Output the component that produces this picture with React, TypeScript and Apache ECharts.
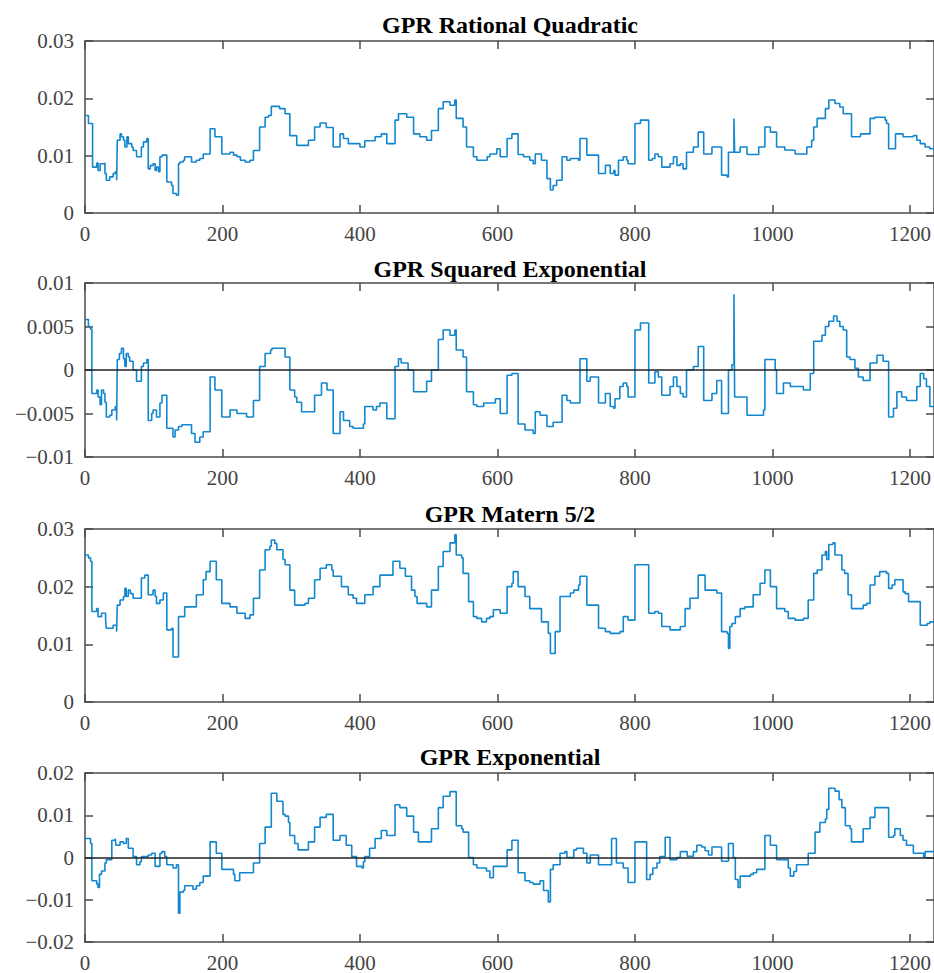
import React, { useEffect, useRef } from "react";
import * as echarts from "echarts";

const titles = [
  "GPR Rational Quadratic",
  "GPR Squared Exponential",
  "GPR Matern 5/2",
  "GPR Exponential",
];

const xTicks = [0, 200, 400, 600, 800, 1000, 1200];
const yRanges = [
  { min: 0, max: 0.03, interval: 0.01 },
  { min: -0.01, max: 0.01, interval: 0.005 },
  { min: 0, max: 0.03, interval: 0.01 },
  { min: -0.02, max: 0.02, interval: 0.01 },
];
const zeroLine = [false, true, false, true];

const rqData = [
  [0,0.0170],[5,0.0156],[11,0.0080],[17,0.0087],[19,0.0074],[22,0.0086],[27,0.0087],[29,0.0069],[31,0.0057],[36,0.0063],[41,0.0069],[44,0.0072],[46,0.0057],[47,0.0127],[51,0.0138],[53,0.0133],[56,0.0127],[58,0.0115],[61,0.0133],[63,0.0121],[68,0.0115],[70,0.0109],[75,0.0098],[82,0.0115],[85,0.0124],[90,0.0130],[92,0.0077],[95,0.0083],[99,0.0086],[102,0.0074],[104,0.0080],[107,0.0072],[109,0.0098],[112,0.0101],[119,0.0054],[126,0.0048],[128,0.0034],[133,0.0031],[136,0.0086],[138,0.0089],[143,0.0092],[145,0.0098],[155,0.0089],[162,0.0092],[167,0.0095],[172,0.0103],[182,0.0147],[189,0.0133],[199,0.0103],[211,0.0106],[216,0.0101],[221,0.0098],[226,0.0092],[233,0.0089],[240,0.0092],[245,0.0109],[254,0.0150],[262,0.0167],[267,0.0170],[271,0.0186],[283,0.0182],[291,0.0173],[298,0.0135],[308,0.0118],[325,0.0127],[334,0.0150],[342,0.0157],[351,0.0149],[361,0.0115],[371,0.0138],[376,0.0130],[383,0.0121],[400,0.0115],[407,0.0126],[422,0.0133],[431,0.0138],[439,0.0121],[451,0.0162],[456,0.0173],[468,0.0167],[478,0.0138],[487,0.0133],[497,0.0127],[504,0.0144],[514,0.0182],[521,0.0194],[531,0.0188],[538,0.0197],[540,0.0165],[550,0.0150],
  [555,0.0115],[565,0.0098],[570,0.0092],[585,0.0098],[589,0.0103],[599,0.0112],[604,0.0098],[614,0.0130],[621,0.0138],[630,0.0102],[638,0.0098],[647,0.0092],[652,0.0086],[655,0.0103],[664,0.0092],[672,0.0060],[677,0.0040],[681,0.0048],[686,0.0057],[694,0.0098],[701,0.0092],[706,0.0095],[718,0.0092],[720,0.0130],[730,0.0101],[747,0.0069],[757,0.0083],[764,0.0069],[769,0.0074],[771,0.0066],[776,0.0092],[783,0.0098],[788,0.0092],[790,0.0086],[800,0.0156],[808,0.0162],[820,0.0092],[825,0.0095],[829,0.0103],[834,0.0098],[839,0.0080],[851,0.0086],[856,0.0098],[861,0.0083],[866,0.0086],[870,0.0077],[875,0.0106],[885,0.0115],[892,0.0141],[900,0.0103],[912,0.0115],[926,0.0066],[934,0.0063],[936,0.0106],[944,0.0165],[945,0.0106],[953,0.0115],[963,0.0102],[980,0.0115],[989,0.0150],[997,0.0141],[1006,0.0115],[1018,0.0110],[1028,0.0109],[1033,0.0103],[1050,0.0115],[1057,0.0127],[1060,0.0150],[1065,0.0165],[1077,0.0182],[1082,0.0197],[1091,0.0191],[1098,0.0185],[1103,0.0173],[1115,0.0133],[1128,0.0138],[1142,0.0165],[1149,0.0167],[1164,0.0162],[1166,0.0156],[1169,0.0112],[1179,0.0138],[1190,0.0133],[1205,0.0135],[1210,0.0127],[1215,0.0121],[1222,0.0115],[1229,0.0112],[1235,0.0109],
];

const seData = [
  [0,0.0058],[5,0.0050],[8,0.0047],[10,-0.0027],[17,-0.0023],[19,-0.0031],[22,-0.0040],[24,-0.0023],[27,-0.0027],[29,-0.0037],[31,-0.0054],[36,-0.0052],[39,-0.0046],[44,-0.0042],[46,-0.0058],[47,0.0012],[50,0.0019],[53,0.0025],[56,0.0013],[58,0.0004],[60,0.0019],[63,0.0015],[65,0.0010],[70,0.0000],[75,-0.0013],[82,0.0004],[85,0.0008],[90,0.0012],[92,-0.0058],[97,-0.0050],[99,-0.0046],[104,-0.0054],[109,-0.0038],[112,-0.0029],[119,-0.0067],[128,-0.0077],[131,-0.0069],[136,-0.0065],[141,-0.0063],[155,-0.0073],[160,-0.0083],[167,-0.0077],[172,-0.0071],[182,-0.0008],[189,-0.0023],[199,-0.0054],[211,-0.0046],[221,-0.0050],[235,-0.0054],[245,-0.0035],[254,0.0004],[262,0.0019],[270,0.0023],[272,0.0025],[291,0.0015],[298,-0.0023],[305,-0.0031],[308,-0.0037],[315,-0.0048],[334,-0.0029],[344,-0.0015],[352,-0.0023],[361,-0.0073],[371,-0.0048],[376,-0.0058],[385,-0.0065],[390,-0.0067],[405,-0.0062],[407,-0.0042],[419,-0.0046],[424,-0.0042],[429,-0.0038],[439,-0.0056],[451,0.0004],[456,0.0013],[460,0.0008],[470,0.0000],[478,-0.0025],[497,-0.0013],[504,0.0000],[514,0.0035],[521,0.0046],[531,0.0040],[538,0.0046],[540,0.0023],[550,0.0015],
  [555,-0.0025],[565,-0.0040],[570,-0.0042],[580,-0.0038],[597,-0.0033],[604,-0.0050],[614,-0.0006],[621,-0.0004],[630,-0.0062],[640,-0.0069],[652,-0.0073],[655,-0.0048],[662,-0.0052],[672,-0.0065],[681,-0.0060],[694,-0.0029],[701,-0.0035],[706,-0.0038],[720,0.0013],[730,-0.0013],[735,-0.0008],[747,-0.0038],[757,-0.0027],[764,-0.0042],[769,-0.0044],[771,-0.0033],[778,-0.0019],[783,-0.0015],[788,-0.0019],[790,-0.0031],[800,0.0046],[808,0.0054],[820,-0.0015],[829,-0.0002],[834,-0.0008],[839,-0.0029],[851,-0.0019],[856,-0.0008],[861,-0.0019],[866,-0.0027],[870,-0.0031],[875,0.0000],[885,0.0004],[892,0.0027],[900,-0.0035],[912,-0.0027],[919,-0.0012],[926,-0.0050],[936,0.0000],[941,0.0006],[944,0.0087],[945,-0.0031],[963,-0.0052],[987,-0.0046],[989,0.0012],[1004,0.0000],[1006,-0.0027],[1016,-0.0015],[1026,-0.0019],[1045,-0.0023],[1055,-0.0004],[1060,0.0033],[1072,0.0040],[1077,0.0050],[1082,0.0056],[1089,0.0062],[1094,0.0056],[1098,0.0050],[1103,0.0046],[1108,0.0015],[1113,0.0012],[1120,0.0002],[1125,-0.0008],[1132,-0.0012],[1142,0.0008],[1152,0.0017],[1161,0.0010],[1169,-0.0054],[1176,-0.0044],[1181,-0.0025],[1188,-0.0031],[1195,-0.0035],[1210,-0.0019],[1215,-0.0004],[1220,-0.0010],[1224,-0.0019],[1229,-0.0042],[1235,-0.0040],
];

const m52Data = [
  [0,0.0255],[5,0.0250],[8,0.0244],[10,0.0157],[17,0.0162],[19,0.0148],[24,0.0154],[30,0.0142],[31,0.0128],[41,0.0133],[46,0.0122],[47,0.0168],[51,0.0177],[56,0.0183],[58,0.0197],[60,0.0183],[63,0.0194],[66,0.0188],[70,0.0180],[82,0.0215],[87,0.0220],[92,0.0186],[99,0.0194],[102,0.0183],[104,0.0171],[109,0.0177],[114,0.0189],[119,0.0125],[126,0.0128],[128,0.0078],[136,0.0148],[145,0.0165],[162,0.0186],[172,0.0212],[176,0.0226],[182,0.0244],[191,0.0212],[199,0.0171],[211,0.0165],[221,0.0154],[233,0.0145],[240,0.0151],[245,0.0180],[254,0.0229],[262,0.0264],[269,0.0270],[271,0.0281],[276,0.0275],[279,0.0264],[288,0.0247],[291,0.0238],[298,0.0194],[305,0.0168],[320,0.0171],[325,0.0180],[334,0.0212],[342,0.0232],[351,0.0238],[359,0.0229],[361,0.0218],[373,0.0200],[383,0.0186],[390,0.0180],[395,0.0171],[407,0.0186],[419,0.0200],[429,0.0220],[448,0.0244],[458,0.0232],[466,0.0218],[475,0.0194],[480,0.0183],[483,0.0171],[497,0.0165],[504,0.0194],[514,0.0235],[521,0.0261],[531,0.0276],[538,0.0290],[540,0.0255],[548,0.0250],[550,0.0223],
  [558,0.0174],[565,0.0148],[570,0.0145],[577,0.0139],[584,0.0145],[589,0.0148],[594,0.0160],[604,0.0154],[614,0.0200],[621,0.0206],[623,0.0226],[630,0.0200],[640,0.0183],[647,0.0162],[664,0.0139],[674,0.0119],[677,0.0084],[684,0.0122],[691,0.0183],[706,0.0189],[711,0.0194],[718,0.0203],[720,0.0218],[730,0.0168],[747,0.0128],[757,0.0122],[764,0.0119],[778,0.0122],[783,0.0148],[790,0.0142],[800,0.0238],[820,0.0154],[829,0.0157],[834,0.0154],[839,0.0131],[851,0.0125],[866,0.0131],[873,0.0162],[880,0.0180],[892,0.0220],[902,0.0194],[919,0.0189],[926,0.0122],[934,0.0119],[936,0.0093],[938,0.0131],[941,0.0136],[946,0.0148],[953,0.0162],[960,0.0165],[972,0.0186],[982,0.0206],[989,0.0229],[997,0.0200],[1006,0.0162],[1018,0.0157],[1023,0.0145],[1033,0.0142],[1045,0.0145],[1052,0.0177],[1060,0.0223],[1065,0.0229],[1072,0.0255],[1077,0.0261],[1079,0.0247],[1082,0.0273],[1088,0.0276],[1091,0.0255],[1101,0.0229],[1105,0.0223],[1110,0.0186],[1115,0.0162],[1132,0.0168],[1137,0.0171],[1142,0.0203],[1149,0.0218],[1156,0.0226],[1166,0.0223],[1169,0.0197],[1174,0.0203],[1178,0.0212],[1190,0.0191],[1193,0.0188],[1198,0.0174],[1215,0.0133],[1225,0.0136],[1229,0.0139],[1235,0.0139],
];

const expData = [
  [0,0.0045],[8,0.0033],[10,-0.0055],[17,-0.0063],[19,-0.0071],[21,-0.0040],[24,-0.0032],[29,-0.0013],[31,-0.0005],[39,0.0041],[44,0.0045],[45,0.0029],[51,0.0037],[56,0.0033],[60,0.0045],[63,0.0022],[70,0.0002],[75,-0.0017],[80,-0.0010],[82,0.0002],[92,0.0006],[97,0.0010],[102,-0.0021],[109,0.0010],[112,0.0014],[116,0.0002],[119,-0.0017],[128,-0.0025],[133,-0.0017],[136,-0.0132],[138,-0.0082],[143,-0.0078],[145,-0.0067],[157,-0.0075],[162,-0.0067],[167,-0.0059],[172,-0.0044],[182,0.0037],[191,0.0010],[199,-0.0028],[216,-0.0040],[218,-0.0055],[225,-0.0036],[245,-0.0013],[254,0.0033],[262,0.0072],[271,0.0152],[279,0.0133],[288,0.0102],[291,0.0098],[296,0.0083],[298,0.0052],[305,0.0033],[310,0.0018],[325,0.0037],[334,0.0072],[342,0.0095],[351,0.0102],[361,0.0041],[371,0.0052],[380,0.0029],[388,0.0002],[395,-0.0021],[403,-0.0025],[405,-0.0010],[407,0.0002],[414,0.0022],[422,0.0045],[431,0.0064],[439,0.0052],[451,0.0125],[458,0.0118],[468,0.0098],[478,0.0060],[485,0.0037],[504,0.0068],[514,0.0118],[521,0.0145],[531,0.0156],[540,0.0075],[548,0.0068],[550,0.0060],
  [558,0.0000],[565,-0.0017],[570,-0.0025],[584,-0.0032],[589,-0.0048],[594,-0.0021],[614,0.0018],[621,0.0041],[630,-0.0036],[640,-0.0055],[647,-0.0059],[652,-0.0063],[662,-0.0055],[667,-0.0078],[674,-0.0105],[677,-0.0028],[681,-0.0017],[691,0.0010],[698,0.0014],[701,0.0000],[711,0.0018],[715,0.0022],[725,0.0010],[730,-0.0013],[735,0.0006],[747,-0.0017],[766,0.0045],[773,-0.0013],[783,-0.0025],[790,-0.0059],[800,0.0037],[817,-0.0052],[822,-0.0040],[826,-0.0025],[832,-0.0013],[836,0.0002],[844,0.0048],[851,-0.0005],[861,0.0000],[866,0.0014],[876,0.0003],[885,0.0014],[890,0.0029],[897,0.0025],[902,0.0016],[907,0.0006],[912,0.0025],[926,-0.0009],[936,0.0033],[943,0.0000],[946,-0.0052],[950,-0.0071],[953,-0.0044],[968,-0.0040],[972,-0.0036],[977,-0.0028],[989,0.0052],[997,0.0029],[1006,-0.0005],[1023,-0.0025],[1026,-0.0044],[1031,-0.0033],[1035,-0.0017],[1052,0.0010],[1062,0.0060],[1069,0.0083],[1077,0.0091],[1079,0.0114],[1082,0.0164],[1091,0.0157],[1097,0.0137],[1101,0.0118],[1106,0.0075],[1113,0.0068],[1115,0.0037],[1132,0.0068],[1142,0.0095],[1149,0.0118],[1169,0.0048],[1176,0.0052],[1178,0.0068],[1186,0.0052],[1190,0.0041],[1195,0.0029],[1205,0.0010],[1220,0.0000],[1222,0.0014],[1235,0.0014],
];

const seriesData = [rqData, seData, m52Data, expData];

const gridTops = [41, 283, 529, 773];
const gridHeights = [172, 174, 173, 173];
const titleYs = [24.7, 268.7, 514, 757.3];

const LINE_COLOR = "#1287cf";
const AXIS_COLOR = "#4a4a4a";
const FONT = '"Liberation Serif", "Times New Roman", serif';

function fmtY(v: number) {
  const s = String(parseFloat(v.toFixed(4)));
  return s.replace("-", "\u2212");
}

export default function App() {
  const ref = useRef<HTMLDivElement>(null);
  useEffect(() => {
    if (!ref.current) return;
    const chart = echarts.init(ref.current, undefined, { renderer: "svg" });
    const grids: any[] = [];
    const xAxes: any[] = [];
    const yAxes: any[] = [];
    const series: any[] = [];
    const graphics: any[] = [];
    for (let i = 0; i < 4; i++) {
      grids.push({ left: 85, width: 850, top: gridTops[i], height: gridHeights[i], containLabel: false });
      const yr = yRanges[i];
      const yTicks: number[] = [];
      for (let k = 0; ; k++) {
        const v = parseFloat((yr.min + k * yr.interval).toFixed(4));
        if (v > yr.max + 1e-9) break;
        yTicks.push(v);
      }
      const axisLine = { show: true, onZero: false, lineStyle: { color: AXIS_COLOR, width: 1.5 } };
      const axisTick = { show: true, inside: true, length: 8, lineStyle: { color: AXIS_COLOR, width: 1.5 } };
      xAxes.push({
        type: "value", gridIndex: i, position: "bottom", min: 0, max: 1235,
        axisLine, axisTick: { ...axisTick, customValues: xTicks },
        axisLabel: {
          customValues: xTicks, margin: 10, color: "#444", fontFamily: FONT, fontSize: 21,
          formatter: (v: number) => String(v),
        },
        splitLine: { show: false },
      });
      xAxes.push({
        type: "value", gridIndex: i, position: "top", min: 0, max: 1235,
        axisLine, axisTick: { ...axisTick, customValues: xTicks },
        axisLabel: { show: false }, splitLine: { show: false },
      });
      yAxes.push({
        type: "value", gridIndex: i, position: "left", min: yr.min, max: yr.max, interval: yr.interval,
        axisLine, axisTick: { ...axisTick, customValues: yTicks },
        axisLabel: {
          customValues: yTicks, margin: 11, color: "#444", fontFamily: FONT, fontSize: 21,
          formatter: (v: number) => fmtY(v),
        },
        splitLine: { show: false },
      });
      yAxes.push({
        type: "value", gridIndex: i, position: "right", min: yr.min, max: yr.max, interval: yr.interval,
        axisLine, axisTick: { ...axisTick, customValues: yTicks },
        axisLabel: { show: false }, splitLine: { show: false },
      });
      const s: any = {
        type: "line",
        xAxisIndex: i * 2,
        yAxisIndex: i * 2,
        data: seriesData[i],
        step: "end",
        showSymbol: false,
        symbol: "none",
        lineStyle: { color: LINE_COLOR, width: 1.6 },
        z: 2,
      };
      if (zeroLine[i]) {
        s.markLine = {
          silent: true,
          symbol: "none",
          label: { show: false },
          lineStyle: { color: "#222", width: 1.5, type: "solid" },
          data: [{ yAxis: 0 }],
          z: 3,
        };
      }
      series.push(s);
      graphics.push({
        type: "text",
        x: 510,
        y: titleYs[i],
        style: {
          text: titles[i],
          fill: "#000",
          font: 'bold 24px "Liberation Serif", serif',
          align: "center",
          verticalAlign: "middle",
          textAlign: "center",
          textVerticalAlign: "middle",
        },
      });
    }
    chart.setOption({
      animation: false,
      backgroundColor: "#fff",
      grid: grids,
      xAxis: xAxes,
      yAxis: yAxes,
      series,
      graphic: { elements: graphics },
    });
    return () => chart.dispose();
  }, []);
  return (
    <div
      ref={ref}
      style={{ position: "fixed", left: 0, top: 0, width: 934, height: 973, background: "#fff" }}
    />
  );
}
